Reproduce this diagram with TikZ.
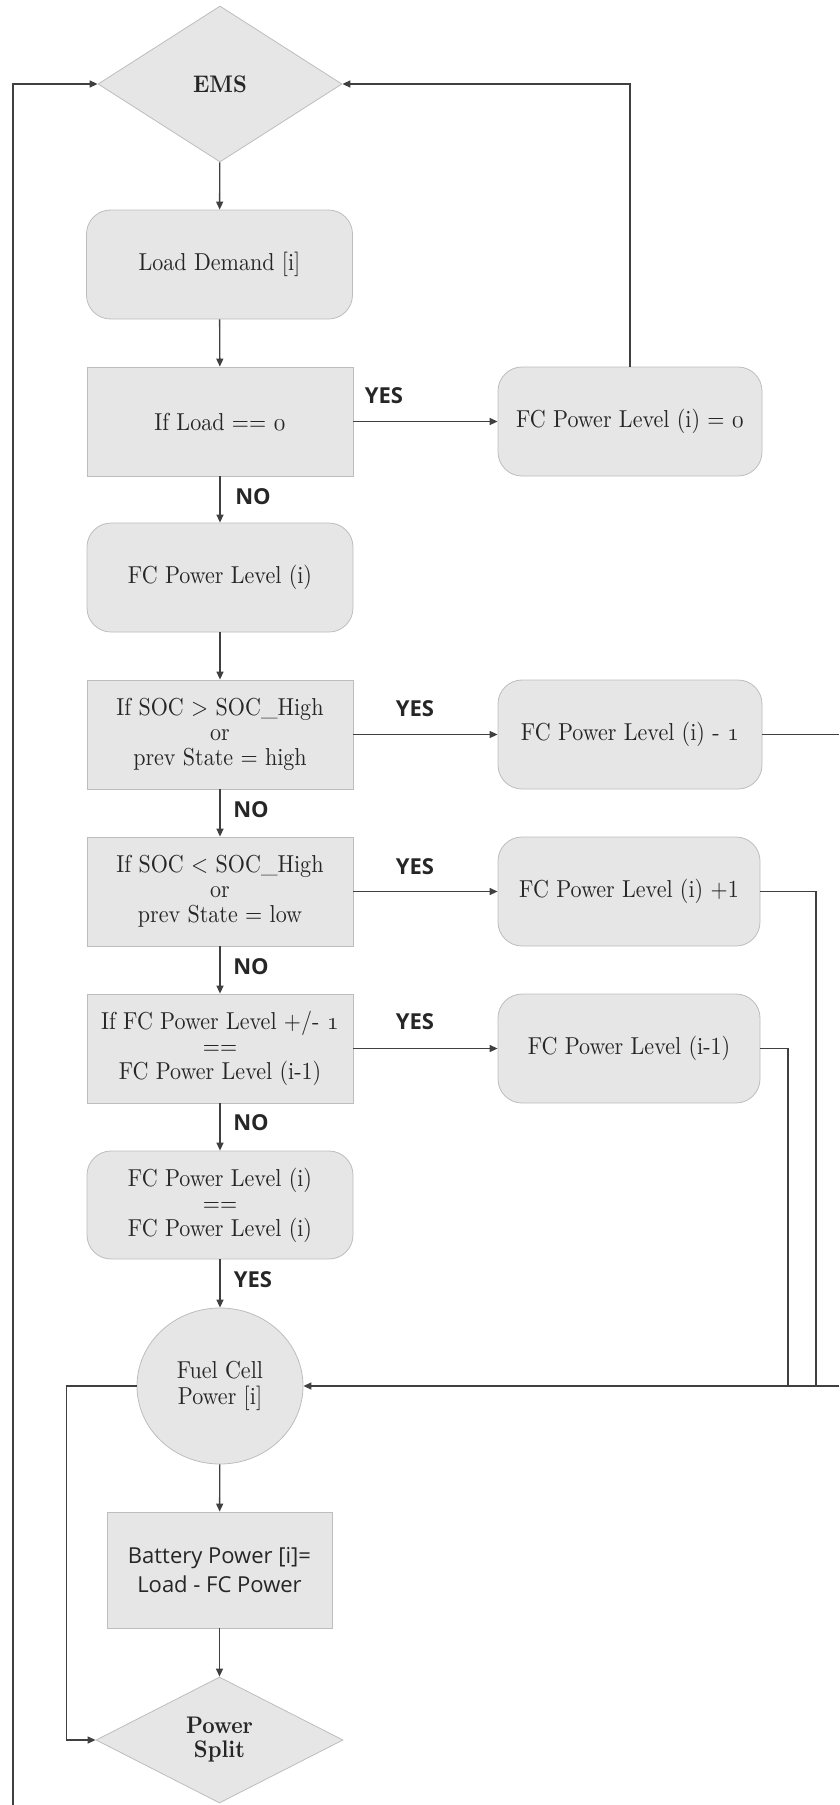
\RequirePackage{fix-cm}
\documentclass[tikz,border=0pt]{standalone}
\usepackage{fontspec}
% text-size design of Latin Modern at every size, set a little narrow
\setmainfont{lmroman10-regular.otf}[BoldFont=lmroman10-bold.otf, FakeStretch=0.9]
\newfontfamily\labelfont{Open Sans}
\usetikzlibrary{shapes.geometric,arrows.meta}

\definecolor{boxfill}{HTML}{E6E6E6}
\definecolor{boxline}{HTML}{BDBDBD}
\definecolor{wire}{HTML}{404040}
\definecolor{ink}{HTML}{262626}

% old-style figures taken from the math italic font
\newcommand{\ofig}[1]{$\mathnormal{#1}$}

\tikzset{
  base/.style={draw=boxline, fill=boxfill, line width=0.8pt, align=center,
    inner sep=0pt, text=ink, font={\fontsize{24.5}{25}\selectfont}},
  squarebox/.style={base, rectangle, minimum width=266pt, minimum height=109pt},
  roundbox/.style={squarebox, rounded corners=24pt},
  sidebox/.style={roundbox, minimum width=264pt},
  decision/.style={base, diamond, font={\bfseries\fontsize{24}{24}\selectfont}},
  terminal/.style={base, ellipse, minimum width=166pt, minimum height=156pt,
    font={\fontsize{24.5}{26}\selectfont}},
  sansbox/.style={base, rectangle, minimum width=225pt, minimum height=116pt,
    font={\labelfont\fontsize{22}{29}\selectfont}},
  wireline/.style={draw=wire, line width=1.4pt},
  conn/.style={wireline, -{Triangle[length=8pt,width=7pt]}},
  lbl/.style={inner sep=0pt, text=ink, font={\labelfont\bfseries\fontsize{22}{26}\selectfont}}
}

\begin{document}
\begin{tikzpicture}[x=1pt, y=-1pt]
\useasboundingbox (0,0) rectangle (839,1805);

% main column
\node[decision, minimum width=244pt, minimum height=156pt] (ems) at (220,84) {EMS};
\node[roundbox] (load) at (219.5,264.5) {Load Demand [i]};
\node[squarebox] (iszero) at (220,421.5) {If Load == \ofig{0}};
\node[roundbox] (level) at (220,577.5) {FC Power Level (i)};
\node[squarebox] (sochigh) at (220,734.5) {If SOC > SOC\_High\\or\\prev State = high};
\node[squarebox] (soclow) at (220,891.5) {If SOC < SOC\_High\\or\\prev State = low};
\node[squarebox] (same) at (220,1048.5) {If FC Power Level +/- \ofig{1}\\==\\FC Power Level (i-1)};
\node[roundbox, minimum height=108pt] (keep) at (220,1205) {FC Power Level (i)\\==\\FC Power Level (i)};
\node[terminal] (fcp) at (220,1386) {Fuel Cell\\Power [i]};
\node[sansbox] (batt) at (219.5,1570) {Battery Power [i]=\\Load - FC Power};
\node[decision, minimum width=247pt, minimum height=126pt] (split) at (219.5,1740) {Power\\Split};

% side column
\node[sidebox] (zero) at (630,421.5) {FC Power Level (i) = \ofig{0}};
\node[sidebox] (minus) at (630,734.5) {FC Power Level (i) - \ofig{1}};
\node[sidebox, minimum width=262pt] (plus) at (629,891.5) {FC Power Level (i) +1};
\node[sidebox, minimum width=262pt] (prev) at (629,1048.5) {FC Power Level (i-1)};

% downward flow
\draw[conn] (ems) -- (load);
\draw[conn] (load) -- (iszero);
\draw[conn] (iszero) -- (level);
\draw[conn] (level) -- (sochigh);
\draw[conn] (sochigh) -- (soclow);
\draw[conn] (soclow) -- (same);
\draw[conn] (same) -- (keep);
\draw[conn] (keep) -- (fcp);
\draw[conn] (fcp) -- (batt);
\draw[conn] (batt) -- (split);

% branches to the side column
\draw[conn] (iszero) -- (zero);
\draw[conn] (sochigh) -- (minus);
\draw[conn] (soclow) -- (plus);
\draw[conn] (same) -- (prev);

% returns
\draw[conn] (zero.north) |- (ems.east);
\coordinate (minusout) at (839,734.5);
\draw[wireline] (minus.east) -- (minusout);
\coordinate (plusdrop) at (816,1386);
\draw[wireline] (plus.east) -| (plusdrop);
\coordinate (prevdrop) at (788,1386);
\draw[wireline] (prev.east) -| (prevdrop);
\coordinate (fcin) at (839,1386);
\draw[conn] (fcin) -- (fcp.east);
\draw[conn] (fcp.west) -- ++(-70,0) |- (split.west);
\coordinate (loopin) at (13,1805);
\draw[conn] (loopin) |- (ems.west);

% branch labels
\node[lbl] (y1) at (384,396) {YES};
\node[lbl] (y2) at (415,709) {YES};
\node[lbl] (y3) at (415,867) {YES};
\node[lbl] (y4) at (415,1022) {YES};
\node[lbl] (n1) at (253,497) {NO};
\node[lbl] (n2) at (251,810) {NO};
\node[lbl] (n3) at (251,967) {NO};
\node[lbl] (n4) at (251,1123) {NO};
\node[lbl] (y5) at (253,1280) {YES};
\end{tikzpicture}
\end{document}
